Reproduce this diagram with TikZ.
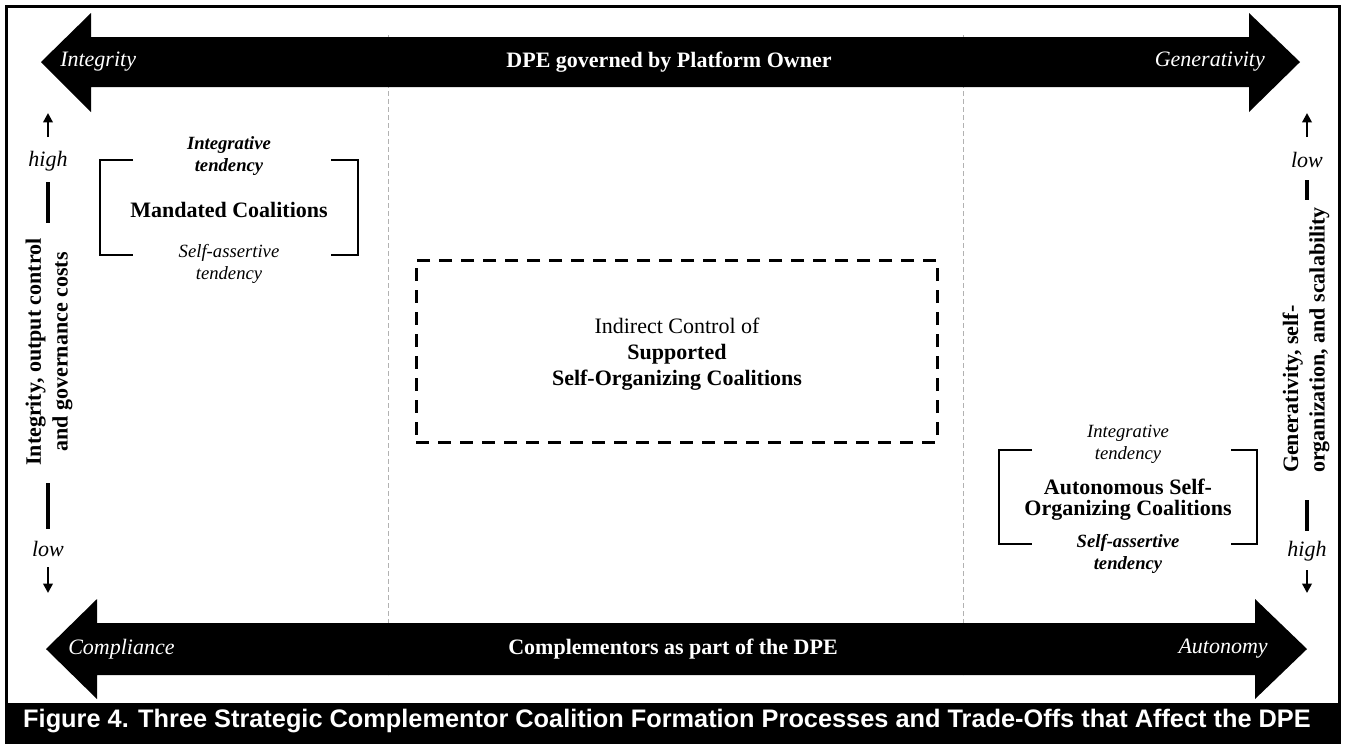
\documentclass[tikz,border=0pt]{standalone}
\usepackage{fontspec}
\setmainfont{Liberation Serif}
\newfontfamily\capfont{Liberation Sans}
\usetikzlibrary{arrows.meta}

\begin{document}
\begin{tikzpicture}[x=0.75pt, y=-0.75pt,
  bigtext/.style={font=\fontsize{16.5}{19.5}\selectfont\bfseries, inner sep=0pt},
  tendit/.style={font=\fontsize{14}{16.5}\selectfont\itshape, align=center, inner sep=0pt},
  tendbf/.style={font=\fontsize{14}{16.5}\selectfont\bfseries\itshape, align=center, inner sep=0pt},
  armlabel/.style={font=\fontsize{16.5}{19.5}\selectfont\itshape, text=white, inner sep=0pt},
  armtitle/.style={font=\fontsize{16.5}{19.5}\selectfont\bfseries, text=white, inner sep=0pt},
  axtext/.style={font=\fontsize{16.5}{19.5}\selectfont\itshape, inner sep=0pt},
  axtitle/.style={font=\fontsize{16.5}{20}\selectfont\bfseries, rotate=90, inner sep=0pt},
  axbar/.style={line width=3pt},
  axarrow/.style={line width=2pt, -{Triangle[width=7pt,length=7pt]}},
  bracket/.style={line width=0.9pt},
  dashbox/.style={draw, line width=2.25pt, dash pattern=on 9.75pt off 6.75pt},
  divider/.style={gray!60, line width=0.75pt, dash pattern=on 3.75pt off 2.25pt}]
\useasboundingbox (0,0) rectangle (1351,744);

% frame and caption bar
\draw[line width=2.25pt] (6.5,703) -- (6.5,6.5) -- (1339.5,6.5) -- (1339.5,703);
\fill (5,703) rectangle (1341,744);
\node[font=\capfont\bfseries\fontsize{19}{22}\selectfont, text=white, inner sep=0pt] (caption) at (667,721)
  {Figure 4. Three Strategic Complementor Coalition Formation Processes and Trade-Offs that Affect the DPE};

% dashed dividers
\draw[divider] (388,35) -- (388,675);
\draw[divider] (963,35) -- (963,675);

% top and bottom block arrows
\fill (41,62) -- (91,13) -- (91,37) -- (1249,37) -- (1249,13) -- (1300,62)
  -- (1249,112) -- (1249,87) -- (91,87) -- (91,112) -- cycle;
\fill (46,649) -- (97,599) -- (97,623) -- (1255,623) -- (1255,599) -- (1307,649)
  -- (1255,699) -- (1255,675) -- (97,675) -- (97,699) -- cycle;

\node[armlabel, anchor=west] (integrity) at (60,62) {Integrity};
\node[armtitle] (owner) at (669,62) {DPE governed by Platform Owner};
\node[armlabel, anchor=east] (generativity) at (1265,62) {Generativity};
\node[armlabel, anchor=west] (compliance) at (68,649) {Compliance};
\node[armtitle] (complementors) at (673,649) {Complementors as part of the DPE};
\node[armlabel, anchor=east] (autonomy) at (1268,649) {Autonomy};

% left axis
\coordinate (lup0) at (48,137);
\coordinate (lup1) at (48,113);
\draw[axarrow] (lup0) -- (lup1);
\node[axtext] (lhigh) at (48,161) {high};
\draw[axbar] (48,182) -- (48,223);
\node[axtitle, align=center] (laxis) at (49,352) {Integrity, output control\\and governance costs};
\draw[axbar] (48,483) -- (48,529);
\node[axtext] (llow) at (48,549) {low};
\coordinate (ldn0) at (48,567);
\coordinate (ldn1) at (48,593);
\draw[axarrow] (ldn0) -- (ldn1);

% right axis
\coordinate (rup0) at (1307,137);
\coordinate (rup1) at (1307,113);
\draw[axarrow] (rup0) -- (rup1);
\node[axtext] (rlow) at (1307,160) {low};
\draw[axbar] (1307,180) -- (1307,200);
\node[axtitle, align=left] (raxis) at (1306,340) {Generativity, self-\\organization, and scalability};
\draw[axbar] (1307,500) -- (1307,531);
\node[axtext] (rhigh) at (1307,551) {high};
\coordinate (rdn0) at (1307,570);
\coordinate (rdn1) at (1307,593);
\draw[axarrow] (rdn0) -- (rdn1);

% mandated coalitions
\draw[bracket] (133,160) -- (100,160) -- (100,255) -- (133,255);
\draw[bracket] (331,160) -- (358,160) -- (358,255) -- (331,255);
\node[tendbf] (mandint) at (229,156) {Integrative\\tendency};
\node[bigtext] (mandated) at (229,210) {Mandated Coalitions};
\node[tendit] (mandself) at (229,264) {Self-assertive\\tendency};

% supported self-organizing coalitions
\node[dashbox, minimum width=390.75pt, minimum height=136.5pt] (supbox) at (676.5,351) {};
\node[align=center, font=\fontsize{16.5}{19.5}\selectfont, inner sep=0pt] (supported) at (677,354)
  {Indirect Control of\\\textbf{Supported}\\\textbf{Self-Organizing Coalitions}};

% autonomous self-organizing coalitions
\draw[bracket] (1032,450) -- (999,450) -- (999,544) -- (1032,544);
\draw[bracket] (1231,450) -- (1257,450) -- (1257,544) -- (1231,544);
\node[tendit] (autoint) at (1128,444) {Integrative\\tendency};
\node[bigtext, align=center, font=\fontsize{16.5}{15.5}\selectfont\bfseries] (autonomous) at (1128,500) {Autonomous Self-\\Organizing Coalitions};
\node[tendbf] (autoself) at (1128,554) {Self-assertive\\tendency};

\end{tikzpicture}
\end{document}
